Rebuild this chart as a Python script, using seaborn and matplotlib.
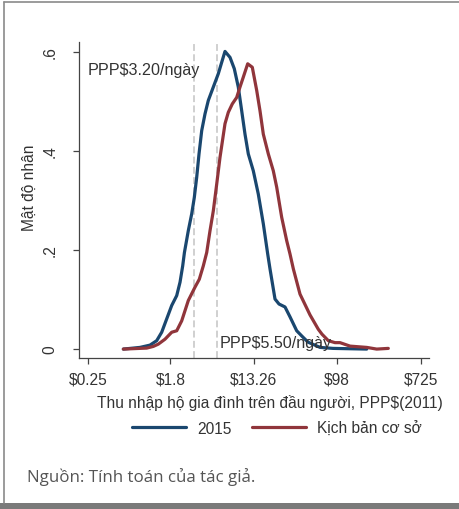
import numpy as np
import pandas as pd
import matplotlib
matplotlib.use("Agg")
import matplotlib.pyplot as plt
from matplotlib.lines import Line2D
from matplotlib.patches import Rectangle
import seaborn as sns

# ---- data ----
income_2015 = [0.583, 0.869, 1.104, 1.297, 1.462, 1.648, 1.858, 2.095, 2.268, 2.418,
               2.520, 2.765, 3.000, 3.193, 3.383, 3.575, 3.813, 4.128, 4.467, 5.035,
               5.677, 6.158, 6.663, 7.513, 8.328, 9.165, 9.943, 10.76, 11.65, 13.13,
               14.80, 16.69, 18.54, 19.59, 22.09, 24.31, 28.08, 31.66, 37.15, 42.18,
               48.71, 64.98, 88.69, 199.0]
density_2015 = [0.0, 0.0034, 0.008, 0.017, 0.034, 0.061, 0.088, 0.108, 0.135, 0.168,
                0.195, 0.239, 0.273, 0.306, 0.347, 0.394, 0.441, 0.475, 0.502, 0.529,
                0.556, 0.579, 0.601, 0.589, 0.566, 0.529, 0.481, 0.434, 0.394, 0.360,
                0.313, 0.253, 0.192, 0.162, 0.101, 0.091, 0.085, 0.065, 0.037, 0.026,
                0.014, 0.0034, 0.0014, 0.0]

income_base = [0.583, 1.021, 1.196, 1.348, 1.583, 1.858, 2.095, 2.361, 2.765, 3.247,
               3.600, 3.962, 4.300, 4.653, 5.035, 5.462, 5.911, 6.663, 7.212, 7.937,
               8.817, 9.543, 10.33, 11.48, 12.82, 14.25, 15.42, 16.69, 18.82, 21.20,
               23.00, 25.93, 29.22, 31.64, 34.27, 40.21, 51.11, 62.35, 68.16, 79.28,
               93.04, 104.9, 133.4, 199.0, 252.7, 333.7]
density_base = [0.0, 0.002, 0.0054, 0.010, 0.020, 0.034, 0.037, 0.057, 0.098, 0.125,
                0.141, 0.168, 0.195, 0.239, 0.279, 0.333, 0.387, 0.455, 0.478, 0.495,
                0.508, 0.529, 0.549, 0.576, 0.569, 0.522, 0.481, 0.434, 0.394, 0.360,
                0.327, 0.266, 0.219, 0.192, 0.162, 0.111, 0.069, 0.040, 0.030, 0.017,
                0.013, 0.013, 0.006, 0.0034, 0.0, 0.0014]

series_names = ["2015", "Kịch bản cơ sở"]
poverty_lines = [3.20, 5.50]
poverty_labels = ["PPP$3.20/ngày", "PPP$5.50/ngày"]
x_ticks = [0.25, 1.8, 13.26, 98, 725]
x_tick_labels = ["$0.25", "$1.8", "$13.26", "$98", "$725"]
y_ticks = [0, 0.2, 0.4, 0.6]
y_tick_labels = ["0", ".2", ".4", ".6"]
x_title = "Thu nhập hộ gia đình trên đầu người, PPP$(2011)"
y_title = "Mật độ nhân"
source_text = "Nguồn: Tính toán của tác giả."

df = pd.concat([
    pd.DataFrame({"income": income_2015, "density": density_2015, "series": series_names[0]}),
    pd.DataFrame({"income": income_base, "density": density_base, "series": series_names[1]}),
], ignore_index=True)

# ---- style ----
sns.set_style("white")
plt.rcParams["font.family"] = ["Liberation Sans", "DejaVu Sans"]
FS = 11.2
TXT = "#333333"
AX = "#444444"
palette = {series_names[0]: "#1a476f", series_names[1]: "#90353b"}

fig = plt.figure(figsize=(4.59, 5.10), dpi=100)
ax = fig.add_axes([78.7 / 459, 1 - 359 / 510, (429 - 78.7) / 459, (359 - 43) / 510])

for xv in poverty_lines:
    ax.axvline(xv, color="#c4c4c4", lw=1.1, ls=(0, (4.5, 2.2)), zorder=1)

sns.lineplot(data=df, x="income", y="density", hue="series", palette=palette,
             linewidth=2.3, sort=False, estimator=None, ax=ax, legend=False, zorder=3)

ax.set_xscale("log")
ax.set_xlim(0.200, 885)
ax.set_ylim(-0.018, 0.62)
ax.set_xticks(x_ticks)
ax.set_xticklabels(x_tick_labels)
ax.xaxis.set_minor_locator(matplotlib.ticker.NullLocator())
ax.set_yticks(y_ticks)
ax.set_yticklabels(y_tick_labels, rotation=90, va="center")

for s in ["top", "right"]:
    ax.spines[s].set_visible(False)
for s in ["left", "bottom"]:
    ax.spines[s].set_color(AX)
    ax.spines[s].set_linewidth(0.9)

ax.tick_params(axis="x", length=4.5, width=0.9, color=AX, labelcolor=TXT,
               labelsize=FS, pad=5, direction="out", bottom=True)
ax.tick_params(axis="y", length=4.5, width=0.9, color=AX, labelcolor=TXT,
               labelsize=FS, pad=11, direction="out", left=True)

ax.set_xlabel(x_title, fontsize=FS, color=TXT, va="center")
ax.xaxis.set_label_coords((270 - 78.7) / 350.3, -(402.7 - 359) / 316)
ax.set_ylabel(y_title, fontsize=FS, color=TXT, va="center")
ax.yaxis.set_label_coords(-(78.7 - 29.5) / 350.3, (359 - 188) / 316)

ax.text(0.25, 0.564, poverty_labels[0], fontsize=11.6, color=TXT, ha="left", va="center", zorder=4)
ax.text(5.81, 0.014, poverty_labels[1], fontsize=11.6, color=TXT, ha="left", va="center", zorder=4)

handles = [Line2D([], [], color=palette[n], lw=2.3) for n in series_names]
fig.legend(handles, series_names, loc="center", bbox_to_anchor=(277 / 459, 1 - 429 / 510),
           ncol=2, frameon=False, fontsize=FS, handlelength=3.5, handletextpad=0.7,
           columnspacing=1.3, labelcolor=TXT)

fig.text(27 / 459, 1 - 477.5 / 510, source_text, fontsize=12.2, color="#555555",
         family=["Open Sans", "DejaVu Sans"], ha="left", va="center")

# frame lines and bottom bar
fig.add_artist(Line2D([4 / 459, 4 / 459], [1 - 504 / 510, 1 - 3 / 510],
                      transform=fig.transFigure, color="#8a8a8a", lw=1.2))
fig.add_artist(Line2D([4 / 459, 1.0], [1 - 3 / 510, 1 - 3 / 510],
                      transform=fig.transFigure, color="#8a8a8a", lw=1.2))
fig.add_artist(Rectangle((0, 0), 1, 6 / 510, transform=fig.transFigure,
                         color="#7a7a7a", lw=0))

fig.savefig("out.png", dpi=100)
